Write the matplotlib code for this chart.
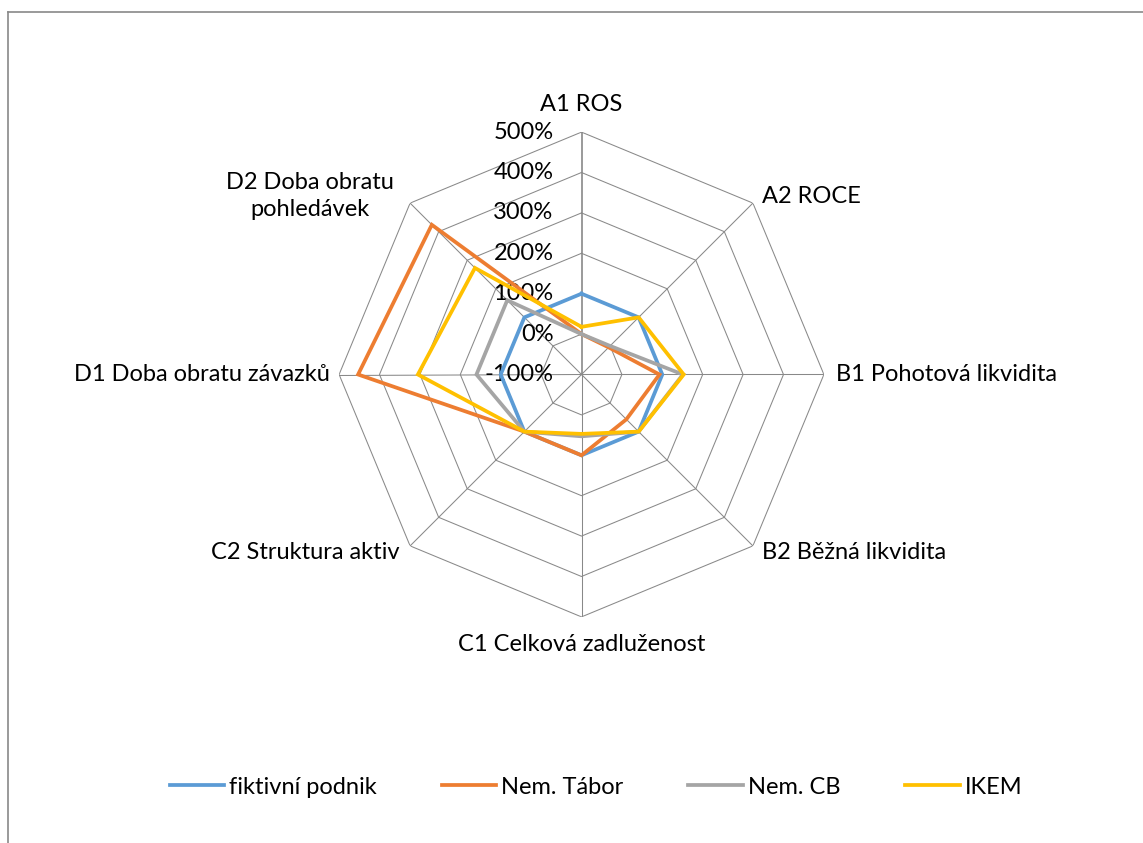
import numpy as np
import matplotlib
matplotlib.use("Agg")
import matplotlib.pyplot as plt
from matplotlib.lines import Line2D

plt.rcParams['font.family'] = ['Lato', 'DejaVu Sans']

# ---- data ----
categories = ["A1 ROS", "A2 ROCE", "B1 Pohotová likvidita", "B2 Běžná likvidita",
              "C1 Celková zadluženost", "C2 Struktura aktiv",
              "D1 Doba obratu závazků", "D2 Doba obratu\npohledávek"]
fiktivni_podnik = [100, 100, 100, 100, 100, 100, 100, 100]
nem_tabor = [0, -5, 93, 57, 100, 100, 453, 424]
nem_cb = [0, 0, 151, 100, 53, 100, 160, 160]
ikem = [18, 100, 153, 100, 47, 100, 305, 273]
series_names = ["fiktivní podnik", "Nem. Tábor", "Nem. CB", "IKEM"]
ring_values = [-100, 0, 100, 200, 300, 400, 500]
ring_labels = ["-100%", "0%", "100%", "200%", "300%", "400%", "500%"]

colors = ["#5B9BD5", "#ED7D31", "#A5A5A5", "#FFC000"]
grid_color = "#898989"
text_size = 17

W, H = 1143, 843
fig = plt.figure(figsize=(W / 100, H / 100), dpi=100)

cx, cy, R = 581.5, 843 - 374.5, 242.4
ax = fig.add_axes([(cx - R) / W, (cy - R) / H, 2 * R / W, 2 * R / H], projection='polar')
ax.set_theta_offset(np.pi / 2)
ax.set_theta_direction(-1)
ax.set_rlim(ring_values[0], ring_values[-1])
ax.grid(False)
ax.set_xticks([])
ax.set_yticks([])
ax.spines['polar'].set_visible(False)
ax.patch.set_alpha(0)

n = len(categories)
theta = np.arange(n) * 2 * np.pi / n
theta_closed = np.append(theta, theta[0])

# octagonal rings
for rv in ring_values[1:]:
    ax.plot(theta_closed, [rv] * (n + 1), color=grid_color, lw=0.75, zorder=1)
# spokes
for i, t in enumerate(theta):
    ax.plot([t, t], [ring_values[0], ring_values[-1]], color=grid_color,
            lw=1.2 if i == 0 else 0.75, zorder=1)

# radial labels along the first spoke
for rv, lab in zip(ring_values, ring_labels):
    ax.annotate(lab, xy=(0, rv), xytext=(-28, 0), textcoords='offset pixels',
                ha='right', va='center', fontsize=text_size, color='#000000',
                annotation_clip=False, zorder=3)

# category labels
offsets = [(0, 28, 'center'), (9, 7, 'left'), (12, 0, 'left'), (9, -7, 'left'),
           (0, -28, 'center'), (-10, -7, 'right'), (-9, 0, 'right'), (-16, 7, 'right')]
for t, lab, (dx, dy, ha) in zip(theta, categories, offsets):
    ax.annotate(lab, xy=(t, ring_values[-1]), xytext=(dx, dy), textcoords='offset pixels',
                ha=ha, va='center', multialignment='center', fontsize=text_size,
                color='#000000', annotation_clip=False, linespacing=1.38)

# data series
for vals, name, col in zip([fiktivni_podnik, nem_tabor, nem_cb, ikem], series_names, colors):
    ax.plot(theta_closed, list(vals) + [vals[0]], color=col, lw=2.7, label=name,
            solid_joinstyle='miter', zorder=4)

fig.legend(loc='center', bbox_to_anchor=(596 / W, 1 - 787 / H), ncol=4, frameon=False,
           fontsize=text_size, handlelength=2.3, handletextpad=0.22, columnspacing=2.75)

# chart frame edges
fig.add_artist(Line2D([8 / W, 1], [1 - 12 / H, 1 - 12 / H], transform=fig.transFigure,
                      color=grid_color, lw=1.2))
fig.add_artist(Line2D([8 / W, 8 / W], [0, 1 - 12 / H], transform=fig.transFigure,
                      color=grid_color, lw=1.2))

fig.savefig("out.png", dpi=100, facecolor='white')
